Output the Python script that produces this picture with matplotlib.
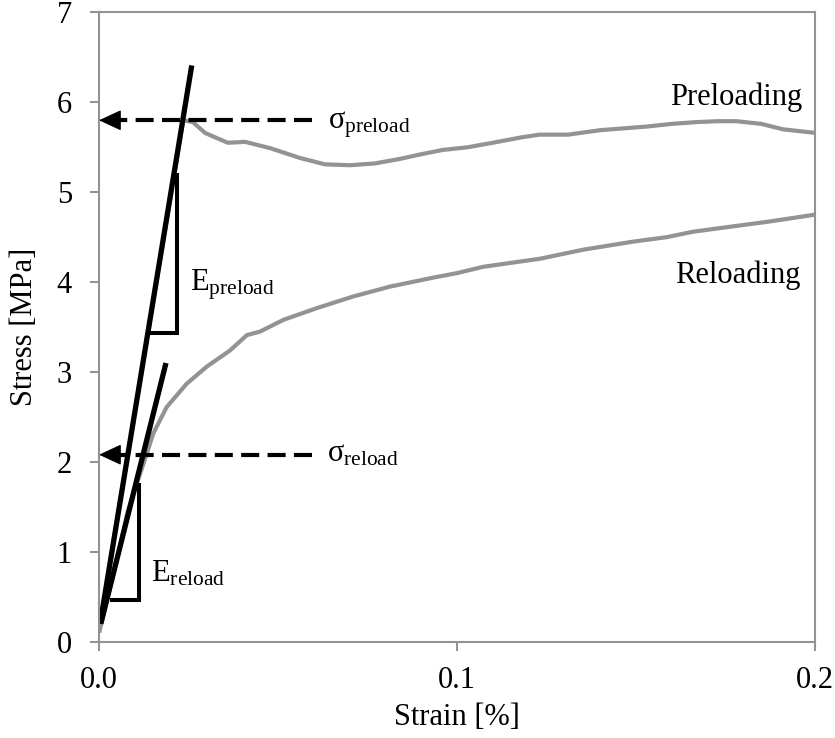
import matplotlib
matplotlib.use("Agg")
import matplotlib.pyplot as plt

plt.rcParams['font.family'] = ['Liberation Serif', 'DejaVu Serif']
plt.rcParams['mathtext.fontset'] = 'custom'
plt.rcParams['mathtext.rm'] = 'Liberation Serif'
plt.rcParams['mathtext.it'] = 'Liberation Serif:italic'
plt.rcParams['lines.scale_dashes'] = False

# curves (strain %, stress MPa)
pre_strain = [0.0, 0.005, 0.010, 0.015, 0.020, 0.0235, 0.0262, 0.0296, 0.0330, 0.0360,
              0.0408, 0.0478, 0.0562, 0.0631, 0.0701, 0.0771, 0.0840, 0.0897, 0.0960,
              0.1030, 0.1100, 0.1180, 0.1230, 0.1310, 0.1400, 0.1530, 0.1600, 0.1670,
              0.1730, 0.1780, 0.1850, 0.1910, 0.2000]
pre_stress = [0.10, 1.35, 2.55, 3.75, 4.95, 5.80, 5.78, 5.66, 5.60, 5.55,
              5.56, 5.49, 5.38, 5.31, 5.30, 5.32, 5.37, 5.42, 5.47,
              5.50, 5.55, 5.61, 5.64, 5.64, 5.69, 5.73, 5.76, 5.78,
              5.79, 5.79, 5.76, 5.70, 5.66]

re_strain = [0.0, 0.004, 0.0081, 0.0124, 0.0152, 0.0189, 0.0245, 0.0301, 0.0366,
             0.0413, 0.0450, 0.0515, 0.0608, 0.0710, 0.0813, 0.0934, 0.1000,
             0.1073, 0.1232, 0.1352, 0.1492, 0.1586, 0.1659, 0.1771, 0.1866, 0.2000]
re_stress = [0.10, 0.75, 1.46, 1.98, 2.32, 2.61, 2.87, 3.06, 3.24,
             3.41, 3.45, 3.58, 3.71, 3.84, 3.95, 4.05, 4.10,
             4.17, 4.26, 4.36, 4.45, 4.50, 4.56, 4.62, 4.67, 4.75]

# tangent lines and slope triangles
pre_tan_x = [0.0003, 0.0259]
pre_tan_y = [0.20, 6.41]
re_tan_x = [0.0005, 0.0187]
re_tan_y = [0.20, 3.10]
pre_tri_x = [0.0142, 0.0217, 0.0217]
pre_tri_y = [3.43, 3.43, 5.19]
re_tri_x = [0.0035, 0.0113, 0.0113]
re_tri_y = [0.46, 0.46, 1.74]

sigma_pre = 5.80
sigma_re = 2.08
arrow_end = 0.0594

gray = '#939393'

fig = plt.figure(figsize=(8.35, 7.38), dpi=100)
ax = fig.add_axes([0.1186, 0.1305, 0.8574, 0.8527])

ax.plot(pre_strain, pre_stress, color=gray, lw=3.0, solid_capstyle='butt')
ax.plot(re_strain, re_stress, color=gray, lw=3.0, solid_capstyle='butt')

ax.plot(pre_tan_x, pre_tan_y, color='k', lw=3.8, solid_capstyle='butt')
ax.plot(re_tan_x, re_tan_y, color='k', lw=3.8, solid_capstyle='butt')
ax.plot(pre_tri_x, pre_tri_y, color='k', lw=2.9, solid_joinstyle='miter')
ax.plot(re_tri_x, re_tri_y, color='k', lw=2.9, solid_joinstyle='miter')

# dashed arrows for the stress levels
for s in [sigma_pre, sigma_re]:
    ax.plot([arrow_end, 0.0045], [s, s], color='k', lw=3.0,
            dashes=(13, 6), solid_capstyle='butt', dash_capstyle='butt')
    ax.annotate('', xy=(0.0, s), xytext=(0.0065, s),
                arrowprops=dict(arrowstyle='-|>,head_length=1.4,head_width=0.65',
                                color='k', lw=1.0, shrinkA=0, shrinkB=0))

fs = 22
ax.text(0.0640, 5.71, r'$\mathrm{σ}_{\mathrm{preload}}$', fontsize=fs, va='baseline')
ax.text(0.0637, 2.00, r'$\mathrm{σ}_{\mathrm{reload}}$', fontsize=fs, va='baseline')
ax.text(0.0254, 3.91, r'$\mathrm{E}_{\mathrm{preload}}$', fontsize=fs, va='baseline')
ax.text(0.0144, 0.67, r'$\mathrm{E}_{\mathrm{reload}}$', fontsize=fs, va='baseline')
ax.text(0.1966, 5.97, 'Preloading', fontsize=fs, ha='right', va='baseline')
ax.text(0.1960, 3.99, 'Reloading', fontsize=fs, ha='right', va='baseline')

ax.set_xlim(0, 0.2)
ax.set_ylim(0, 7)
ax.set_xticks([0.0, 0.1, 0.2])
ax.set_xticklabels(['0.0', '0.1', '0.2'])
ax.set_yticks(range(8))
ax.set_xlabel('Strain [%]', fontsize=fs, labelpad=6)
ax.set_ylabel('Stress [MPa]', fontsize=fs, labelpad=13)

for sp in ax.spines.values():
    sp.set_color(gray)
    sp.set_linewidth(1.5)
ax.tick_params(direction='out', length=6.5, width=1.5, color=gray,
               labelsize=fs, pad=13)
ax.tick_params(axis='x', pad=11)

fig.savefig('out.png', dpi=100)
